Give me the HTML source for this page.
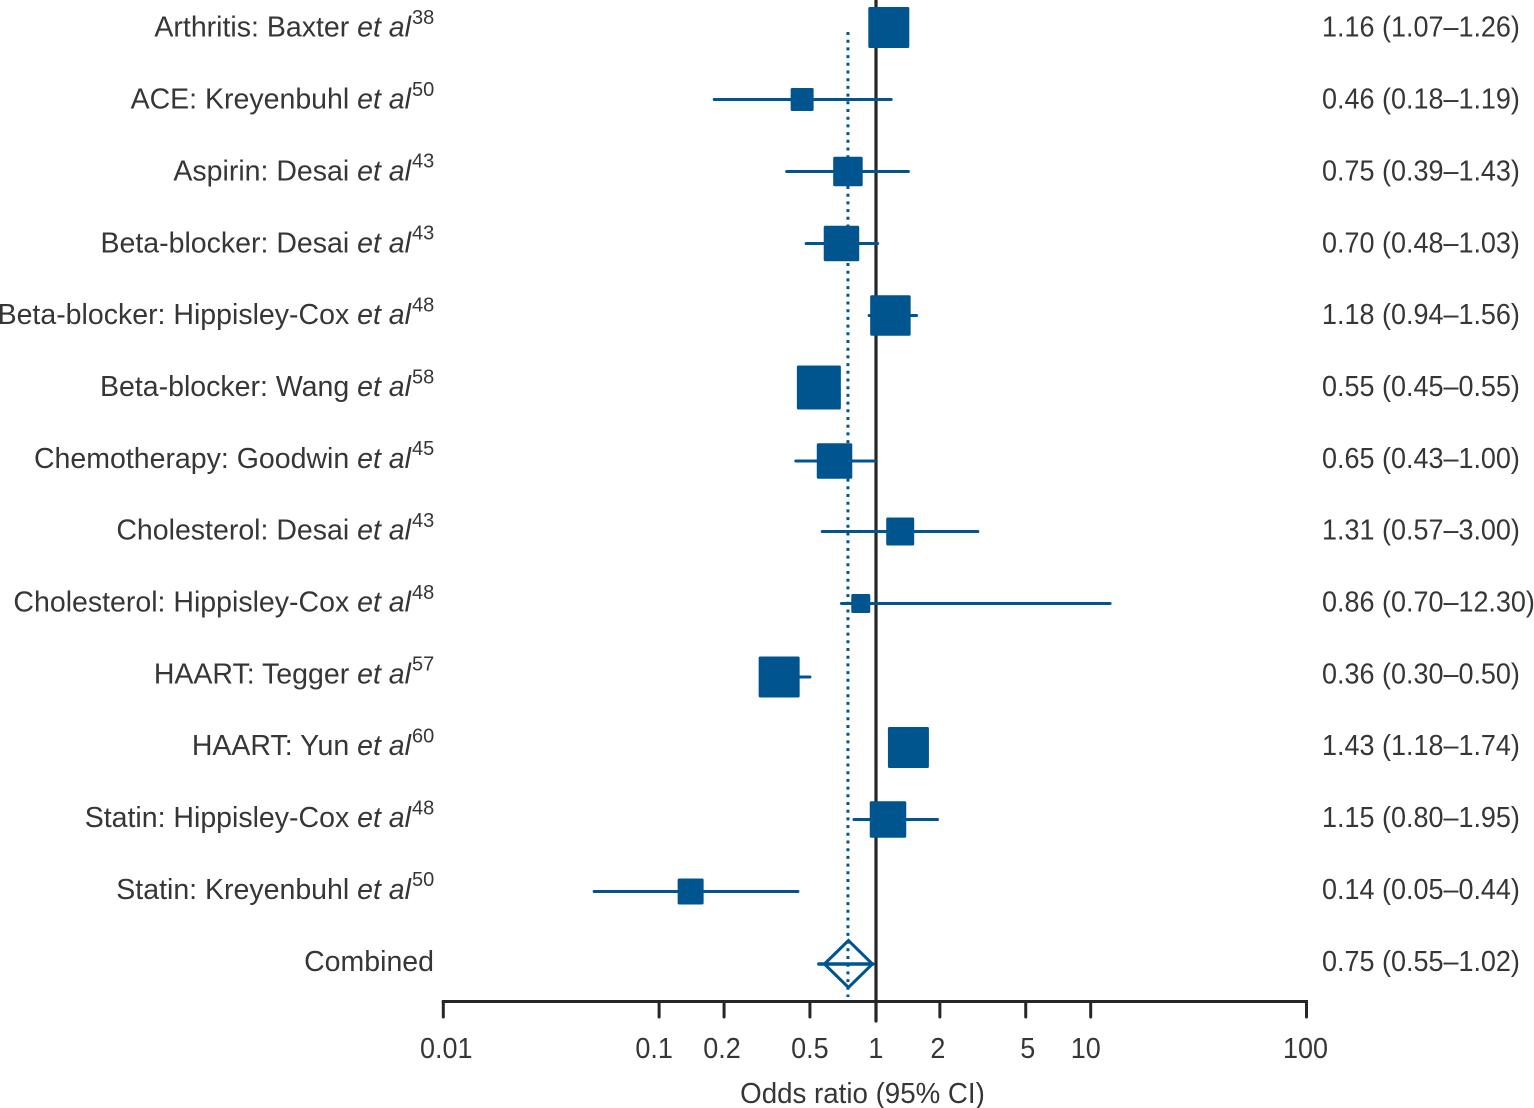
<!DOCTYPE html>
<html lang="en">
<head>
<meta charset="utf-8">
<title>Forest plot of odds ratios</title>
<style>
  html, body { margin: 0; padding: 0; background: #fff; }
  body { width: 1534px; height: 1108px; overflow: hidden; }
  svg { display: block; }
  text { font-family: "Liberation Sans", sans-serif; fill: #363636; font-size: 28.5px; }
</style>
</head>
<body>
<svg id="chart" xmlns="http://www.w3.org/2000/svg" width="1534" height="1108" viewBox="0 0 1534 1108"></svg>
<script>
const studyNames = ["Arthritis: Baxter", "ACE: Kreyenbuhl", "Aspirin: Desai", "Beta-blocker: Desai", "Beta-blocker: Hippisley-Cox", "Beta-blocker: Wang", "Chemotherapy: Goodwin", "Cholesterol: Desai", "Cholesterol: Hippisley-Cox", "HAART: Tegger", "HAART: Yun", "Statin: Hippisley-Cox", "Statin: Kreyenbuhl"];
const studyRefs = ["38", "50", "43", "43", "48", "58", "45", "43", "48", "57", "60", "48", "50"];
const oddsRatios = [1.16, 0.46, 0.75, 0.70, 1.18, 0.55, 0.65, 1.31, 0.86, 0.36, 1.43, 1.15, 0.14];
const ciLower = [1.07, 0.18, 0.39, 0.48, 0.94, 0.45, 0.43, 0.57, 0.70, 0.30, 1.18, 0.80, 0.05];
const ciUpper = [1.26, 1.19, 1.43, 1.03, 1.56, 0.55, 1.00, 3.00, 12.30, 0.50, 1.74, 1.95, 0.44];
const ciLabels = ["1.16 (1.07–1.26)", "0.46 (0.18–1.19)", "0.75 (0.39–1.43)", "0.70 (0.48–1.03)", "1.18 (0.94–1.56)", "0.55 (0.45–0.55)", "0.65 (0.43–1.00)", "1.31 (0.57–3.00)", "0.86 (0.70–12.30)", "0.36 (0.30–0.50)", "1.43 (1.18–1.74)", "1.15 (0.80–1.95)", "0.14 (0.05–0.44)"];
const studyWeights = [8.2, 4.6, 5.9, 7.1, 8.1, 8.8, 7.1, 5.6, 3.8, 8.2, 8.2, 7.3, 5.2];
const combinedOR = 0.75;
const combinedLower = 0.55;
const combinedUpper = 1.02;
const combinedLabel = "0.75 (0.55–1.02)";
const axisTicks = [0.01, 0.1, 0.2, 0.5, 1, 2, 5, 10, 100];
const axisTickLabels = ["0.01", "0.1", "0.2", "0.5", "1", "2", "5", "10", "100"];

const NS = "http://www.w3.org/2000/svg";
const BLUE = "#00558f";
const INK = "#262626";
const root = document.getElementById("chart");

function x(v) { return 874.9 + 215.8 * Math.log10(v); }
function rowY(i) { return 27.5 + 72 * i + (i === 6 || i === 9 ? 1.5 : 0); }
function labelBase(i) { return 36.7 + 71.85 * i; }
function side(w) { return w * 5; }

function el(tag, attrs, parent) {
  const n = document.createElementNS(NS, tag);
  for (const k in attrs) n.setAttribute(k, attrs[k]);
  (parent || root).appendChild(n);
  return n;
}
function squeezed(px, py, sx, anchor) {
  return el("text", {transform: "translate(" + px + " " + py + ") scale(" + sx + " 1)", "text-anchor": anchor, style: "font-size:29px"});
}

const AXIS_Y = 1001.5;

const refLine = el("line", {x1: x(1) + 1.1, x2: x(1) + 1.1, y1: 0, y2: 1021, stroke: INK, "stroke-width": 3.2, "stroke-linecap": "round"});



const pooledLine = el("line", {x1: x(combinedOR), x2: x(combinedOR), y1: 32, y2: 997, stroke: BLUE, "stroke-width": 3, "stroke-dasharray": "3 4.7"});



const axisLine = el("line", {x1: x(axisTicks[0]) - 1.5, x2: x(axisTicks[axisTicks.length - 1]) + 1.5, y1: AXIS_Y, y2: AXIS_Y, stroke: INK, "stroke-width": 3});



const tickNudge = {"0.01": 3, "0.1": -5, "0.2": -2, "1": 1, "2": -2, "5": 2, "10": -5, "100": -1};
axisTicks.forEach(function (t, i) {
  if (t !== 1) {
    const tick = el("line", {x1: x(t), x2: x(t), y1: AXIS_Y, y2: 1017, stroke: INK, "stroke-width": 3, "stroke-linecap": "round"});
    
    
  }
  const label = squeezed(x(t) + (tickNudge[axisTickLabels[i]] || 0), 1058, 0.93, "middle");
  label.textContent = axisTickLabels[i];
  
  
});

const axisTitle = squeezed(862.5, 1103, 0.955, "middle");
axisTitle.textContent = "Odds ratio (95% CI)";



studyNames.forEach(function (name, i) {
  const y = rowY(i);
  const ci = el("line", {x1: x(ciLower[i]), x2: x(ciUpper[i]), y1: y, y2: y, stroke: BLUE, "stroke-width": 3, "stroke-linecap": "round"});
  
  

  const s = side(studyWeights[i]);
  const box = el("rect", {x: x(oddsRatios[i]) - s / 2, y: y - s / 2, width: s, height: s, rx: 1.5, fill: BLUE});
  
  

  const label = el("text", {x: 411, y: labelBase(i), "text-anchor": "end"});
  
  
  el("tspan", {}, label).textContent = name + " ";
  el("tspan", {"font-style": "italic"}, label).textContent = "et al";

  const ref = el("text", {x: 412, y: labelBase(i) - 12.7, style: "font-size:20px"});
  ref.textContent = studyRefs[i];
  
  

  const value = squeezed(1322, labelBase(i), 0.93, "start");
  value.textContent = ciLabels[i];
  
  
});

const combinedRow = studyNames.length;
const cy = rowY(combinedRow) + 0.5;
const cx = x(combinedOR) + 0.5;
const combinedCi = el("line", {x1: x(combinedLower), x2: x(combinedUpper) - 4, y1: cy, y2: cy, stroke: BLUE, "stroke-width": 3.5, "stroke-linecap": "round"});



const diamond = el("polygon", {points: [[cx - 24, cy], [cx, cy - 23.5], [cx + 24, cy], [cx, cy + 23.5]].join(" "), fill: "none", stroke: BLUE, "stroke-width": 3});



const combinedText = el("text", {x: 434, y: labelBase(combinedRow), "text-anchor": "end"});
combinedText.textContent = "Combined";



const combinedValue = squeezed(1322, labelBase(combinedRow), 0.93, "start");
combinedValue.textContent = combinedLabel;


</script>
</body>
</html>
